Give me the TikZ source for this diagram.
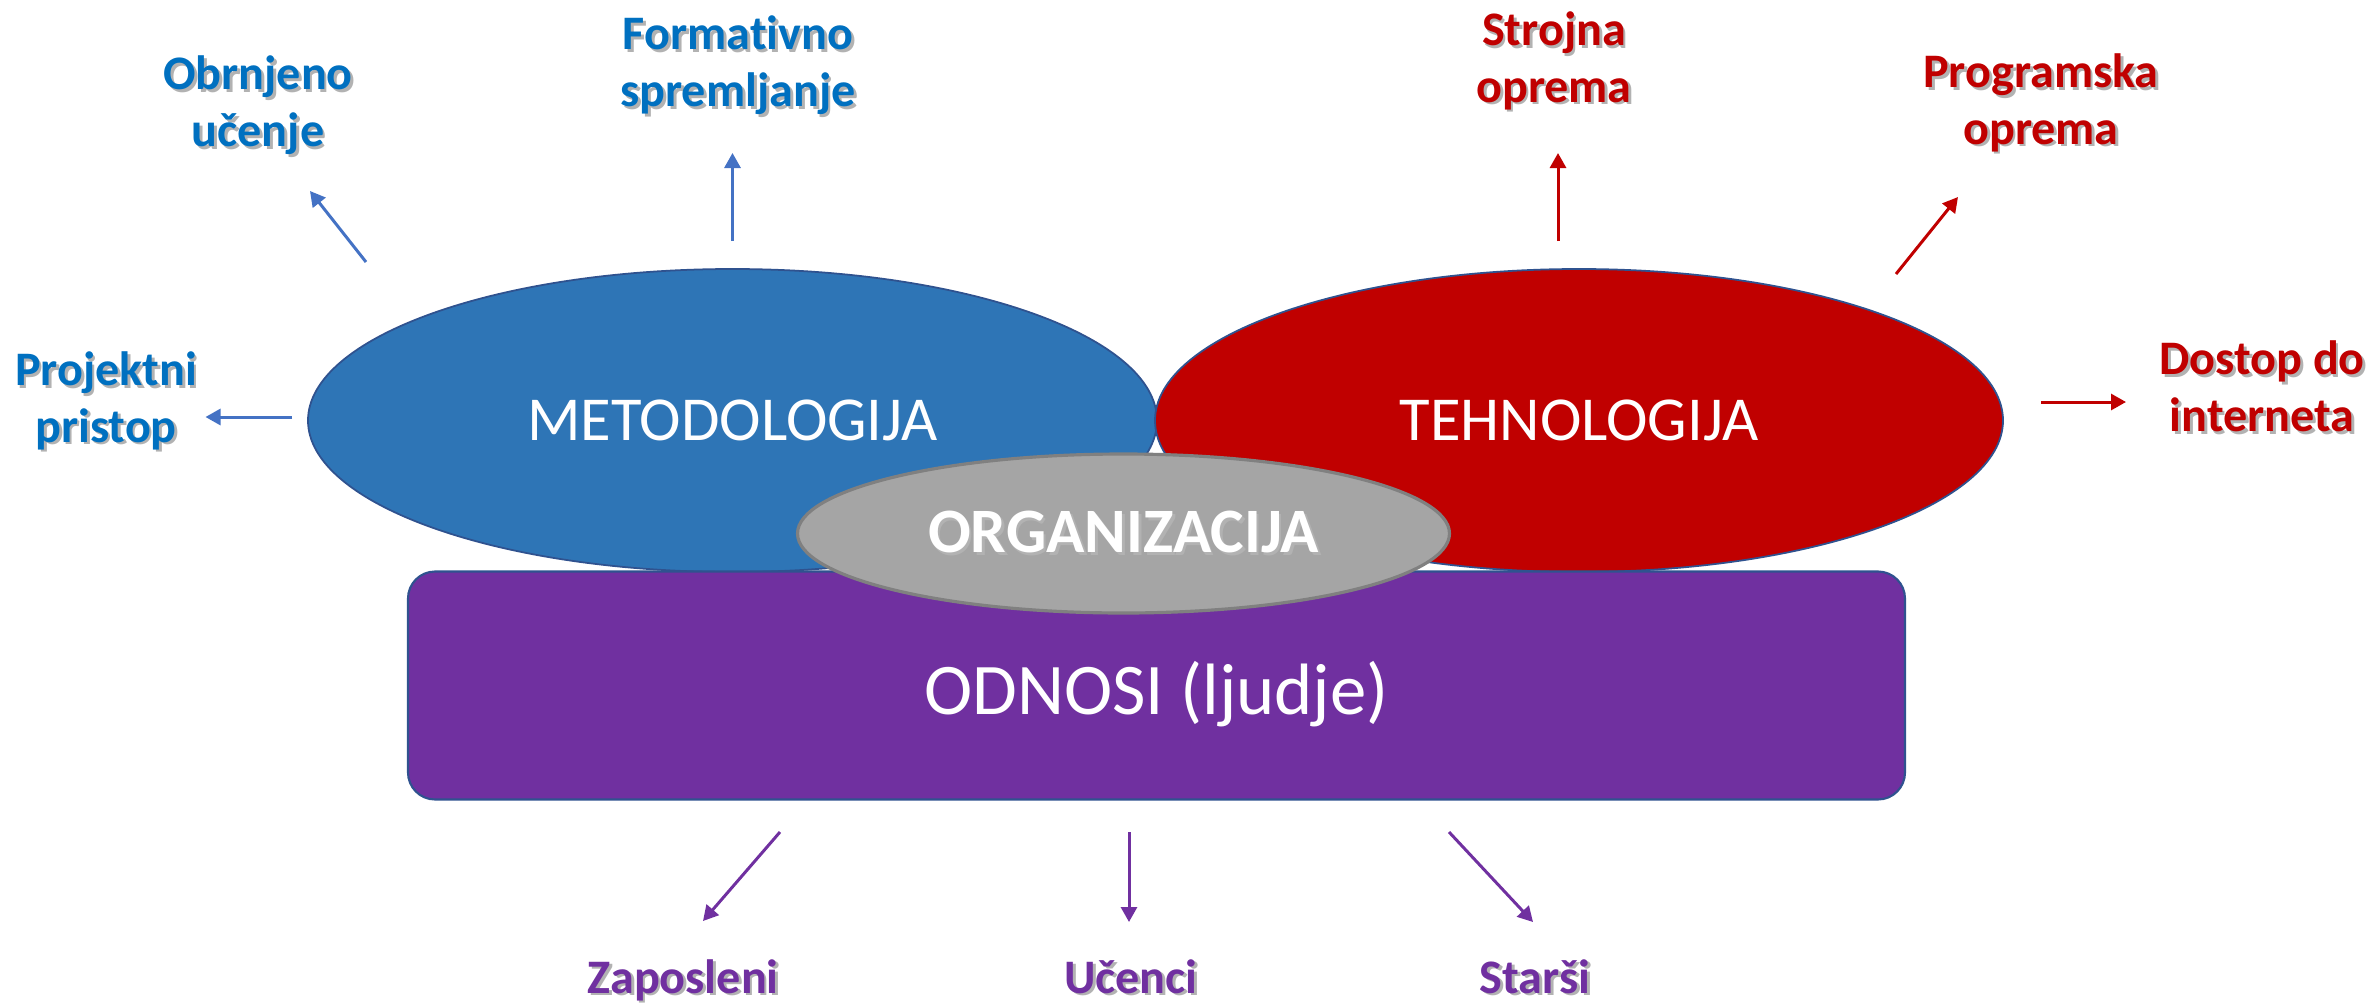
\documentclass[tikz,border=0pt]{standalone}
\usepackage{fontspec}
\setmainfont{Carlito}[Ligatures=NoCommon]
\usetikzlibrary{shapes.geometric,arrows.meta}

\definecolor{metblue}{HTML}{2E75B6}
\definecolor{tehred}{HTML}{C00000}
\definecolor{orggray}{HTML}{A5A5A5}
\definecolor{odnpurple}{HTML}{7030A0}
\definecolor{edgeblue}{HTML}{2F528F}
\definecolor{txtblue}{HTML}{0070C0}
\definecolor{arrblue}{HTML}{4472C4}

% text with a soft drop shadow
\newcommand{\shd}[1]{\leavevmode\rlap{\hspace{0.8pt}\raisebox{-0.8pt}{\textcolor{black!30}{#1}}}#1}

\begin{document}
\begin{tikzpicture}[
    lbl/.style={align=center, inner sep=1pt, font=\fontsize{13.7}{16.2}\selectfont\bfseries},
    arr/.style={line width=0.85pt, -{Triangle[length=0.15cm, width=0.16cm]}}
  ]
  \useasboundingbox (0,0) rectangle (23.72,-10.07);

  % the two big ellipses
  \node[ellipse, draw=edgeblue, line width=0.5pt, fill=metblue, inner sep=0pt,
        minimum width=8.49cm, minimum height=3.03cm, text=white,
        font=\fontsize{17.8}{20}\selectfont] (met) at (7.325,-4.205) {METODOLOGIJA};
  \node[ellipse, draw=edgeblue, line width=0.5pt, fill=tehred, inner sep=0pt,
        minimum width=8.48cm, minimum height=3.03cm, text=white,
        font=\fontsize{17.8}{20}\selectfont] (teh) at (15.79,-4.205) {TEHNOLOGIJA};

  % base box
  \node[rectangle, rounded corners=0.27cm, draw=edgeblue, line width=0.6pt, fill=odnpurple,
        minimum width=14.97cm, minimum height=2.28cm, text=white,
        text height=20.7pt, text depth=4.1pt,
        font=\fontsize{20.7}{24}\selectfont] (odn) at (11.565,-6.855) {ODNOSI (ljudje)};

  % middle ellipse
  \node[ellipse, draw=black!50, line width=0.9pt, fill=orggray, inner sep=0pt,
        minimum width=6.52cm, minimum height=1.59cm, text=white,
        font=\fontsize{18}{20}\selectfont\bfseries] (org) at (11.235,-5.335) {\shd{ORGANIZACIJA}};

  % labels
  \node[lbl, text=txtblue] (obr) at (2.58,-1.065) {\shd{Obrnjeno}\\\shd{učenje}};
  \node[lbl, text=txtblue] (frm) at (7.38,-0.665) {\shd{Formativno}\\\shd{spremljanje}};
  \node[lbl, text=txtblue] (prj) at (1.06,-4.02) {\shd{Projektni}\\\shd{pristop}};
  \node[lbl, text=tehred] (str) at (15.54,-0.62) {\shd{Strojna}\\\shd{oprema}};
  \node[lbl, text=tehred] (prg) at (20.41,-1.04) {\shd{Programska}\\\shd{oprema}};
  \node[lbl, text=tehred] (dst) at (22.62,-3.875) {\shd{Dostop do}\\\shd{interneta}};
  \node[lbl, text=odnpurple, anchor=base] (zap) at (6.83,-9.93) {\shd{Zaposleni}};
  \node[lbl, text=odnpurple, anchor=base] (uce) at (11.31,-9.93) {\shd{Učenci}};
  \node[lbl, text=odnpurple, anchor=base] (sta) at (15.35,-9.93) {\shd{Starši}};

  % arrow ends
  \coordinate (obrT) at (3.66,-2.62);  \coordinate (obrH) at (3.10,-1.91);
  \coordinate (frmT) at (7.325,-2.41); \coordinate (frmH) at (7.325,-1.53);
  \coordinate (prjT) at (2.92,-4.17);  \coordinate (prjH) at (2.055,-4.17);
  \coordinate (strT) at (15.58,-2.41); \coordinate (strH) at (15.58,-1.53);
  \coordinate (prgT) at (18.96,-2.74); \coordinate (prgH) at (19.58,-1.97);
  \coordinate (dstT) at (20.41,-4.02); \coordinate (dstH) at (21.26,-4.02);
  \coordinate (zapT) at (7.80,-8.32);  \coordinate (zapH) at (7.03,-9.21);
  \coordinate (uceT) at (11.29,-8.32); \coordinate (uceH) at (11.29,-9.22);
  \coordinate (staT) at (14.49,-8.32); \coordinate (staH) at (15.33,-9.22);

  \draw[arr, arrblue] (obrT) -- (obrH);
  \draw[arr, arrblue] (frmT) -- (frmH);
  \draw[arr, arrblue] (prjT) -- (prjH);
  \draw[arr, tehred] (strT) -- (strH);
  \draw[arr, tehred] (prgT) -- (prgH);
  \draw[arr, tehred] (dstT) -- (dstH);
  \draw[arr, odnpurple] (zapT) -- (zapH);
  \draw[arr, odnpurple] (uceT) -- (uceH);
  \draw[arr, odnpurple] (staT) -- (staH);
\end{tikzpicture}
\end{document}
